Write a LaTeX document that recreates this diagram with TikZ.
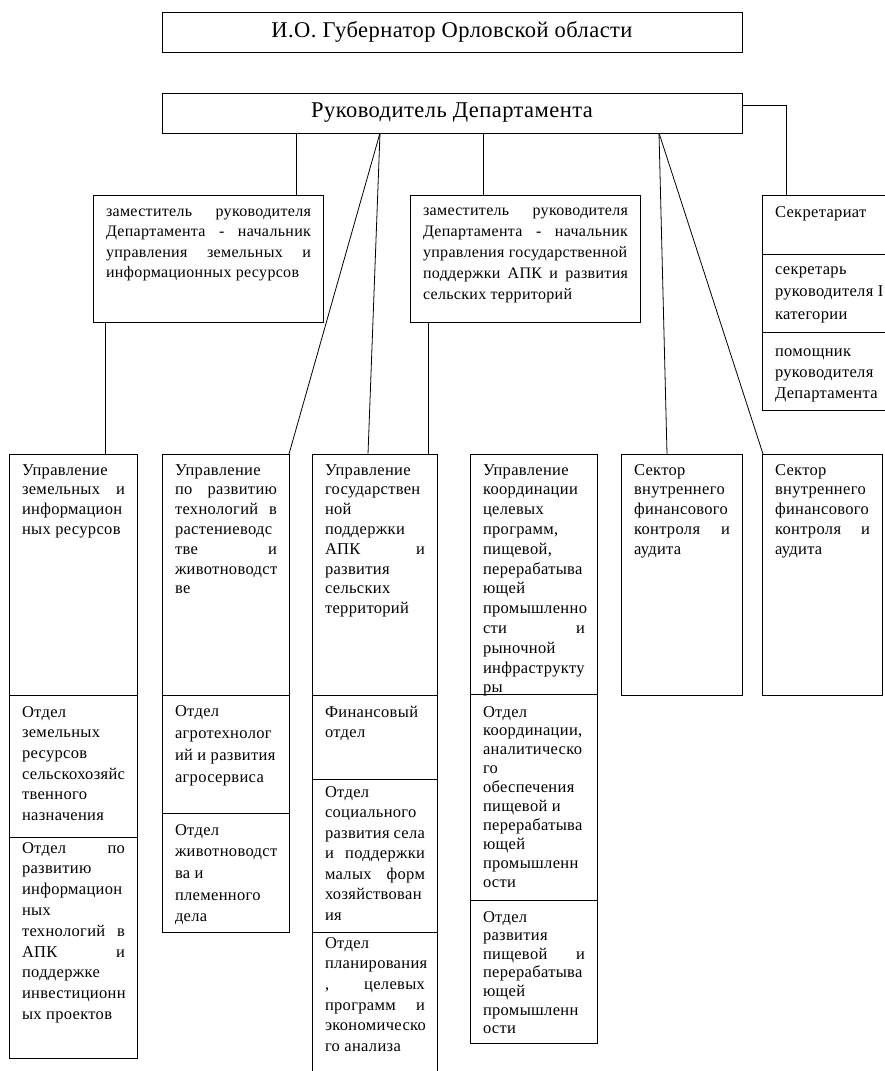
\documentclass[tikz,border=0pt]{standalone}
\usepackage{fontspec}
\setmainfont{Liberation Serif}[LetterSpace=2]
\tikzset{
  x=1pt, y=-1pt,
  box/.style={draw, line width=0.8pt, anchor=north west, inner sep=0pt, outer sep=0pt},
  lpitch/.style={font=\fontsize{16.5}{#1}\selectfont},
  dpitch/.style={font=\fontsize{16}{#1}\selectfont},
  txt/.style={anchor=north west, inner sep=0pt, outer sep=0pt, align=left, lpitch=19.8},
  title/.style={font=\fontsize{22.5}{25}\selectfont, inner sep=0pt},
  conn/.style={line width=0.8pt}
}
\newcommand\J[1]{\hbox to \tw pt{#1}}
% [text opts], name, x, y, w, h, first baseline offset, text
\newcommand\bx[8][]{%
  \node[box, minimum width=#5pt, minimum height=#6pt] (#2) at (#3,#4) {};
  \pgfmathsetmacro\tw{#5-25}%
  \node[txt,#1] (#2t) at ([xshift=13pt,yshift={12pt-#7pt}]#2.north west) {\rule{0pt}{12pt}#8};
}
\begin{document}
\begin{tikzpicture}
\clip (0,0) rectangle (885,1071);
\fill[white] (0,0) rectangle (885,1071);

% top
\node[box, minimum width=580pt, minimum height=40pt] (gov) at (162,12) {};
\node[title] (govt) at (gov.center) {И.О. Губернатор Орловской области};
\node[box, minimum width=580pt, minimum height=40pt] (ruk) at (162,93) {};
\node[title] (rukt) at (ruk.center) {Руководитель Департамента};

% deputies
\bx[dpitch=20.6]{dep1}{93}{195}{230}{127}{21}{\J{заместитель\hfill руководителя}\\ \J{Департамента\hfill -\hfill начальник}\\ \J{управления\hfill земельных\hfill и}\\ информационных ресурсов}
\bx[dpitch=21.2]{dep2}{410}{195}{230}{127}{20}{\J{заместитель\hfill руководителя}\\ \J{Департамента\hfill -\hfill начальник}\\ управления государственной\\ \J{поддержки\hfill АПК\hfill и\hfill развития}\\ сельских территорий}

% secretariat
\bx{sec1}{762}{195}{123}{59}{22}{Секретариат}
\bx[lpitch=22.5]{sec2}{762}{254}{123}{78}{20}{секретарь\\ руководителя I\\ категории}
\bx[lpitch=21]{sec3}{762}{332}{123}{78}{24}{помощник\\ руководителя\\ Департамента}

% bottom row main boxes
\bx{u1}{9}{454}{128}{241}{21}{Управление\\ \J{земельных\hfill и}\\ информацион\\ ных ресурсов}
\bx{u2}{162}{454}{127}{241}{21}{Управление\\ \J{по\hfill развитию}\\ \J{технологий\hfill в}\\ растениеводс\\ \J{тве\hfill и}\\ животноводст\\ ве}
\bx{u3}{312}{454}{125}{241}{21}{Управление\\ государствен\\ ной\\ поддержки\\ \J{АПК\hfill и}\\ развития\\ сельских\\ территорий}
\bx{u4}{470}{454}{127}{240}{21}{Управление\\ координации\\ целевых\\ программ,\\ пищевой,\\ перерабатыва\\ ющей\\ промышленно\\ \J{сти\hfill и}\\ рыночной\\ инфраструкту\\ ры}
\bx{u5}{621}{454}{121}{241}{21}{Сектор\\ внутреннего\\ финансового\\ \J{контроля\hfill и}\\ аудита}
\bx{u6}{762}{454}{120}{241}{21}{Сектор\\ внутреннего\\ финансового\\ \J{контроля\hfill и}\\ аудита}

% departments
\bx[lpitch=20.7]{o11}{9}{695}{128}{142}{22}{Отдел\\ земельных\\ ресурсов\\ сельскохозяйс\\ твенного\\ назначения}
\bx[lpitch=20.8]{o12}{9}{837}{128}{221}{16}{\J{Отдел\hfill по}\\ развитию\\ информацион\\ ных\\ \J{технологий\hfill в}\\ \J{АПК\hfill и}\\ поддержке\\ инвестиционн\\ ых проектов}
\bx[lpitch=22]{o21}{162}{695}{127}{118}{21}{Отдел\\ агротехнолог\\ ий и развития\\ агросервиса}
\bx[lpitch=21.7]{o22}{162}{813}{127}{119}{22}{Отдел\\ животноводст\\ ва и\\ племенного\\ дела}
\bx[lpitch=20]{o31}{312}{695}{125}{84}{22}{Финансовый\\ отдел}
\bx[lpitch=20.5]{o32}{312}{779}{125}{153}{18}{Отдел\\ социального\\ \J{развития\hfill села}\\ \J{и\hfill поддержки}\\ \J{малых\hfill форм}\\ хозяйствован\\ ия}
\bx[lpitch=20.7]{o33}{312}{932}{125}{160}{16}{Отдел\\ планирования\\ \J{,\hfill целевых}\\ \J{программ\hfill и}\\ экономическо\\ го анализа}
\bx[lpitch=18.9]{o41}{470}{694}{127}{206}{23}{Отдел\\ координации,\\ аналитическо\\ го\\ обеспечения\\ пищевой и\\ перерабатыва\\ ющей\\ промышленн\\ ости}
\bx[lpitch=18.6]{o42}{470}{900}{127}{143}{22}{Отдел\\ развития\\ \J{пищевой\hfill и}\\ перерабатыва\\ ющей\\ промышленн\\ ости}

% connectors
\draw[conn] ([xshift=134pt]ruk.south west) -- ([xshift=203pt]dep1.north west);
\draw[conn] ([xshift=321pt]ruk.south west) -- ([xshift=73pt]dep2.north west);
\draw[conn] ([xshift=218pt]ruk.south west) -- (u2.north east);
\draw[conn] ([xshift=218pt]ruk.south west) -- ([xshift=56pt]u3.north west);
\draw[conn] ([xshift=497pt]ruk.south west) -- ([xshift=46pt]u5.north west);
\draw[conn] ([xshift=497pt]ruk.south west) -- ([xshift=1pt]u6.north west);
\draw[conn] ([yshift=-12pt]ruk.north east) -| ([xshift=24pt]sec1.north west);
\draw[conn] ([xshift=12pt]dep1.south west) -- ([xshift=96pt]u1.north west);
\draw[conn] ([xshift=18pt]dep2.south west) -- ([xshift=116pt]u3.north west);
\end{tikzpicture}
\end{document}
